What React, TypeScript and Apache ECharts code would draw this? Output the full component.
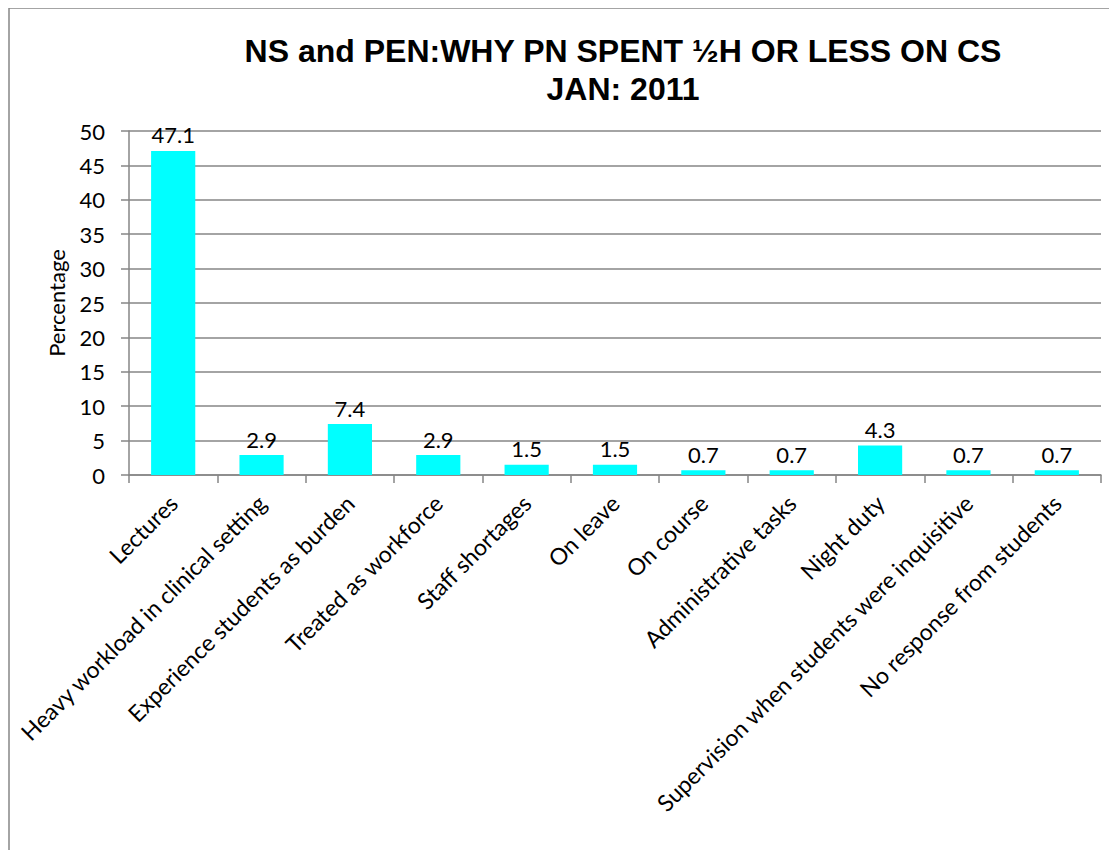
import React, { useEffect, useRef } from "react";
import * as echarts from "echarts";

const categories = [
  "Lectures",
  "Heavy workload in clinical setting",
  "Experience students as burden",
  "Treated as workforce",
  "Staff shortages",
  "On leave",
  "On course",
  "Administrative tasks",
  "Night duty",
  "Supervision when students were inquisitive",
  "No response from students",
];
const values = [47.1, 2.9, 7.4, 2.9, 1.5, 1.5, 0.7, 0.7, 4.3, 0.7, 0.7];
const titleLines = ["NS and PEN:WHY PN SPENT ½H OR LESS ON CS", "JAN: 2011"];
const yAxisName = "Percentage";

export default function App() {
  const ref = useRef<HTMLDivElement>(null);
  useEffect(() => {
    if (!ref.current) return;
    const chart = echarts.init(ref.current, null, { renderer: "svg" });
    const font = "Lato, 'Open Sans', sans-serif";
    chart.setOption({
      animation: false,
      backgroundColor: "#ffffff",
      title: {
        text: titleLines.join("\n"),
        left: 610,
        top: 19,
        textAlign: "center",
        textStyle: {
          fontFamily: "'Liberation Sans', Arial, sans-serif",
          fontWeight: "bold",
          fontSize: 32,
          lineHeight: 38,
          color: "#000",
        },
      },
      graphic: [
        {
          type: "rect",
          shape: { x: 1, y: 0, width: 1300, height: 1000 },
          style: { fill: "none", stroke: "#868686", lineWidth: 1.5 },
          silent: true,
        },
      ],
      grid: {
        left: 121,
        top: 123,
        right: 16,
        bottom: 375,
        containLabel: false,
        outerBoundsMode: "none",
      },
      xAxis: {
        type: "category",
        data: categories,
        axisLine: { lineStyle: { color: "#868686", width: 1.5 } },
        axisTick: { show: true, length: 8, lineStyle: { color: "#868686", width: 1.5 } },
        axisLabel: {
          rotate: 45,
          interval: 0,
          margin: 24,
          fontFamily: font,
          fontSize: 23,
          color: "#000",
          hideOverlap: false,
        },
      },
      yAxis: {
        type: "value",
        min: 0,
        max: 50,
        interval: 5,
        name: yAxisName,
        nameLocation: "middle",
        nameGap: 62,
        nameTextStyle: { fontFamily: font, fontSize: 22, color: "#000" },
        axisLine: { show: true, lineStyle: { color: "#868686", width: 1.5 } },
        axisTick: { show: true, length: 8, lineStyle: { color: "#868686", width: 1.5 } },
        axisLabel: { fontFamily: font, fontSize: 22, color: "#000", margin: 24 },
        splitLine: { lineStyle: { color: "#868686", width: 1.5 } },
      },
      series: [
        {
          type: "bar",
          data: values,
          barWidth: "50%",
          itemStyle: { color: "#00FFFF" },
          label: {
            show: true,
            position: "top",
            distance: 5,
            fontFamily: font,
            fontSize: 22,
            color: "#000",
          },
        },
      ],
    });
    return () => chart.dispose();
  }, []);
  return <div ref={ref} style={{ width: 1109, height: 842 }} />;
}
